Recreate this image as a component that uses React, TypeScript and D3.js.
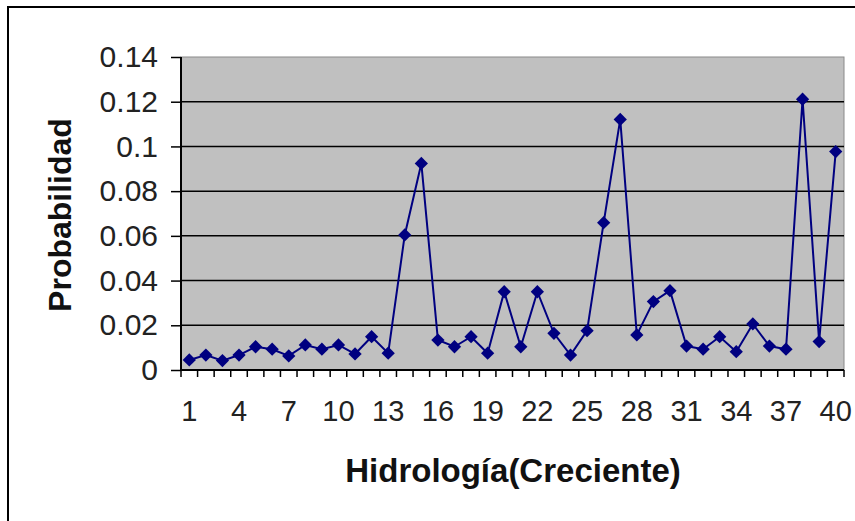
import React, { useEffect, useRef } from "react";
import * as d3 from "d3";

// hydrology scenarios (flood), 1..40
const categories = [
  "1", "2", "3", "4", "5", "6", "7", "8", "9", "10",
  "11", "12", "13", "14", "15", "16", "17", "18", "19", "20",
  "21", "22", "23", "24", "25", "26", "27", "28", "29", "30",
  "31", "32", "33", "34", "35", "36", "37", "38", "39", "40",
];

const probabilidad = [
  0.0045, 0.0067, 0.0042, 0.0067, 0.0104, 0.0093, 0.0063, 0.0112, 0.0093, 0.0112,
  0.0072, 0.0149, 0.0075, 0.0604, 0.0924, 0.0134, 0.0104, 0.0149, 0.0075, 0.035,
  0.0104, 0.035, 0.0164, 0.0067, 0.0176, 0.0659, 0.1121, 0.0157, 0.0306, 0.0355,
  0.0107, 0.0093, 0.0149, 0.0082, 0.0206, 0.0107, 0.0093, 0.1211, 0.0127, 0.0977,
];

const yTicks = [0, 0.02, 0.04, 0.06, 0.08, 0.1, 0.12, 0.14];
const yTickLabels = ["0", "0.02", "0.04", "0.06", "0.08", "0.1", "0.12", "0.14"];
const xLabelCategories = ["1", "4", "7", "10", "13", "16", "19", "22", "25", "28", "31", "34", "37", "40"];

const W = 855;
const H = 521;
const FONT = "'Liberation Sans', Arial, sans-serif";

export default function App() {
  const ref = useRef<SVGSVGElement>(null);

  useEffect(() => {
    const svg = d3.select(ref.current);
    svg.selectAll("*").remove();

    const left = 181, right = 844, top = 57, bottom = 370;

    const x = d3.scaleBand().domain(categories).range([left, right]);
    const y = d3.scaleLinear().domain([0, 0.14]).range([bottom, top]);

    // white chart area with outer border
    svg.append("rect").attr("width", W).attr("height", H).attr("fill", "#fff");
    svg
      .append("rect")
      .attr("x", 8)
      .attr("y", 7)
      .attr("width", W + 20)
      .attr("height", H + 20)
      .attr("fill", "none")
      .attr("stroke", "#000")
      .attr("stroke-width", 2);

    // plot background
    svg
      .append("rect")
      .attr("x", left)
      .attr("y", top)
      .attr("width", right - left)
      .attr("height", bottom - top)
      .attr("fill", "#c0c0c0")
      .attr("stroke", "#8a8a8a")
      .attr("stroke-width", 1);

    // gridlines
    svg
      .selectAll("line.grid")
      .data(yTicks.filter(d => d > 0 && d < 0.14))
      .enter()
      .append("line")
      .classed("grid", true)
      .attr("x1", left)
      .attr("x2", right)
      .attr("y1", d => y(d))
      .attr("y2", d => y(d))
      .attr("stroke", "#000")
      .attr("stroke-width", 1.5);

    // y axis
    const yAxis = d3
      .axisLeft(y)
      .tickValues(yTicks)
      .tickSize(10)
      .tickPadding(13)
      .tickFormat((d, i) => yTickLabels[i]);
    const gy = svg.append("g").attr("transform", `translate(${left},0)`).call(yAxis);
    gy.select(".domain").attr("stroke", "#000").attr("stroke-width", 2).attr("d", `M0,${top}V${bottom}`);
    gy.selectAll(".tick line").attr("stroke", "#000").attr("stroke-width", 1.5);
    gy.selectAll(".tick text")
      .attr("font-family", FONT)
      .attr("font-size", 30)
      .attr("fill", "#222");

    // x axis: ticks on category boundaries
    svg.append("line")
      .attr("x1", left)
      .attr("x2", right)
      .attr("y1", bottom)
      .attr("y2", bottom)
      .attr("stroke", "#000")
      .attr("stroke-width", 2);

    const bounds = categories.map(c => x(c)!).concat([right]);
    svg
      .selectAll("line.xtick")
      .data(bounds)
      .enter()
      .append("line")
      .classed("xtick", true)
      .attr("x1", d => d)
      .attr("x2", d => d)
      .attr("y1", bottom)
      .attr("y2", bottom + 7)
      .attr("stroke", "#000")
      .attr("stroke-width", 1.5);

    svg
      .selectAll("text.xlabel")
      .data(xLabelCategories)
      .enter()
      .append("text")
      .classed("xlabel", true)
      .attr("x", d => x(d)! + x.bandwidth() / 2)
      .attr("y", 421)
      .attr("text-anchor", "middle")
      .attr("font-family", FONT)
      .attr("font-size", 29)
      .attr("fill", "#222")
      .text(d => d);

    // axis titles
    svg
      .append("text")
      .attr("x", 513)
      .attr("y", 482)
      .attr("text-anchor", "middle")
      .attr("font-family", FONT)
      .attr("font-weight", "bold")
      .attr("font-size", 33)
      .attr("fill", "#111")
      .text("Hidrología(Creciente)");

    svg
      .append("text")
      .attr("transform", "translate(71,215) rotate(-90)")
      .attr("text-anchor", "middle")
      .attr("font-family", FONT)
      .attr("font-weight", "bold")
      .attr("font-size", 32)
      .attr("fill", "#111")
      .text("Probabilidad");

    // series
    const cx = (i: number) => x(categories[i])! + x.bandwidth() / 2;
    const line = d3
      .line<number>()
      .x((d, i) => cx(i))
      .y(d => y(d));

    svg
      .append("path")
      .datum(probabilidad)
      .attr("d", line)
      .attr("fill", "none")
      .attr("stroke", "#000080")
      .attr("stroke-width", 2);

    const diamond = d3.symbol().type(d3.symbolSquare).size(88);
    svg
      .selectAll("path.marker")
      .data(probabilidad)
      .enter()
      .append("path")
      .classed("marker", true)
      .attr("d", diamond)
      .attr("transform", (d, i) => `translate(${cx(i)},${y(d)}) rotate(45)`)
      .attr("fill", "#000080");
  }, []);

  return (
    <svg
      ref={ref}
      width={W}
      height={H}
      style={{ position: "absolute", left: 0, top: 0, display: "block" }}
    />
  );
}
